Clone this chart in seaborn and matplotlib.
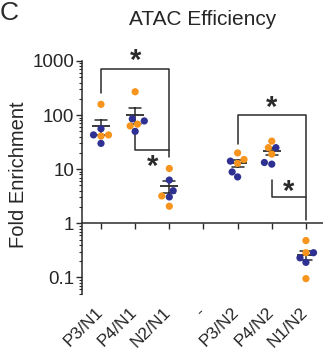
import matplotlib
matplotlib.use("Agg")
import matplotlib.pyplot as plt
import matplotlib.transforms as mtransforms
import numpy as np
import pandas as pd
import seaborn as sns

# groups on the x axis (the 4th one is an empty spacer)
groups = ["P3/N1", "P4/N1", "N2/N1", "-", "P3/N2", "P4/N2", "N1/N2"]

# fold enrichment per replicate
orange_vals = {
    "P3/N1": [158, 43, 41],
    "P4/N1": [270, 63, 68],
    "N2/N1": [10.3, 3.2, 2.07],
    "P3/N2": [15.1, 20, 12.8],
    "P4/N2": [33, 25, 19],
    "N1/N2": [0.48, 0.286, 0.095],
}
navy_vals = {
    "P3/N1": [56, 43, 30],
    "P4/N1": [78, 85, 50],
    "N2/N1": [6.3, 4.0, 3.07],
    "P3/N2": [14.1, 7.2, 8.9],
    "P4/N2": [25, 12.4, 13.3],
    "N1/N2": [0.286, 0.23, 0.19],
}

# significance brackets: (left group, right group, bar height, left leg end, right leg end, star height)
brackets = [
    ("P3/N1", "N2/N1", 711, 255, 16.7, 1240),
    ("P4/N1", "N2/N1", 22.5, 44.5, 22.5, 13.5),
    ("P3/N2", "N1/N2", 100, 29, 1.14, 169),
    ("P4/N2", "N1/N2", 3.07, 6.25, 3.07, 4.64),
]

rows = []
for g, vals in orange_vals.items():
    rows += [(g, v, "orange") for v in vals]
for g, vals in navy_vals.items():
    rows += [(g, v, "navy") for v in vals]
df = pd.DataFrame(rows, columns=["group", "fold", "rep"])

sns.set_style("ticks")
plt.rcParams["font.family"] = ["Liberation Sans", "DejaVu Sans"]

ink = "#2b2b2b"
fig = plt.figure(figsize=(3.23, 3.56), dpi=100)
ax = fig.add_axes([0.2539, 0.175, 0.7461, 0.6537])

# mean +/- SEM (computed on linear values, before log scaling)
sns.pointplot(data=df, x="group", y="fold", order=groups, estimator="mean",
              errorbar="se", capsize=0.35, marker="_", markersize=13,
              markeredgewidth=1.3, linestyle="none", color=ink,
              err_kws={"linewidth": 1.1}, ax=ax)

ax.set_yscale("log")
sns.swarmplot(data=df, x="group", y="fold", order=groups, hue="rep",
              palette={"orange": "#F7941D", "navy": "#2E3192"},
              size=5.2, legend=False, ax=ax)
for ln in ax.lines:
    ln.set_zorder(3)

ax.set_ylim(0.05, 1000)
ax.set_xlim(-0.556, 6.5)
ax.set_yticks([0.1, 1, 10, 100, 1000], ["0.1", "1", "10", "100", "1000"])
ax.yaxis.set_minor_locator(matplotlib.ticker.LogLocator(subs=np.arange(2, 10)))
ax.yaxis.set_minor_formatter(matplotlib.ticker.NullFormatter())
ax.tick_params(axis="y", which="major", length=4, width=1, pad=1.5, labelsize=13.5, color=ink)
ax.tick_params(axis="y", which="minor", length=2, width=0.8, color=ink)

# x axis line sits at fold = 1, labels at the bottom
ax.spines["bottom"].set_position(("data", 1))
ax.spines["top"].set_visible(False)
ax.spines["right"].set_visible(False)
for s in ("left", "bottom"):
    ax.spines[s].set_color(ink)
    ax.spines[s].set_linewidth(1.1)
ax.tick_params(axis="x", length=4, width=1, color=ink, labelbottom=False)
ax.set_xlabel("")

sec = ax.secondary_xaxis(0)
sec.spines["bottom"].set_visible(False)
sec.set_xticks(range(len(groups)), groups)
sec.tick_params(axis="x", length=0, pad=8, labelsize=12.5)
shift = mtransforms.ScaledTranslation(-6 / 100, 0, fig.dpi_scale_trans)
for lab in sec.get_xticklabels():
    lab.set_rotation(45)
    lab.set_ha("right")
    lab.set_rotation_mode("anchor")
    lab.set_transform(lab.get_transform() + shift)

ax.set_ylabel("Fold Enrichment", fontsize=14.5)
ax.yaxis.set_label_coords(-0.225, 0.51)
ax.set_title("ATAC Efficiency", fontsize=15, pad=26)

# asterisk glyph sits high in its box, nudge it down a little
star_shift = mtransforms.ScaledTranslation(0, -5 / 100, fig.dpi_scale_trans)
pos = {g: i for i, g in enumerate(groups)}
for g1, g2, top, l_end, r_end, star in brackets:
    x1, x2 = pos[g1], pos[g2]
    ax.plot([x1, x1, x2, x2], [l_end, top, top, r_end], color=ink, lw=1.1,
            clip_on=False, zorder=2)
    ax.text((x1 + x2) / 2, star, "*", ha="center", va="center", fontsize=21,
            fontweight="bold", color=ink, clip_on=False,
            transform=ax.transData + star_shift)

fig.text(0.0, 0.998, "C", fontsize=19, va="top", ha="left", color=ink)

fig.savefig("out.png", dpi=100)
